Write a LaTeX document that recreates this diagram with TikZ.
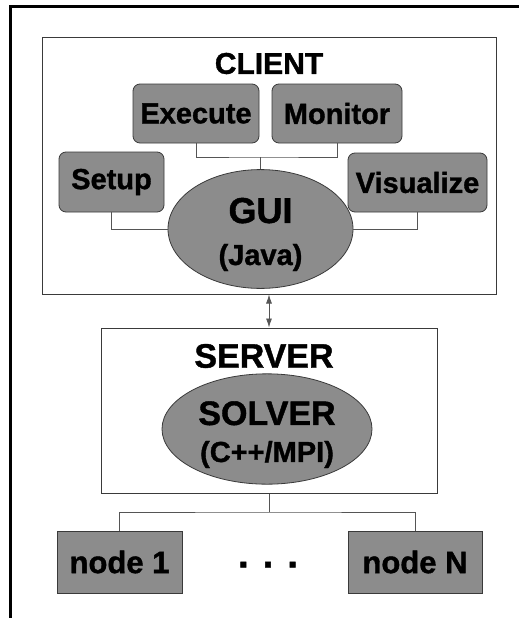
\documentclass[tikz,border=0pt]{standalone}
\usepackage{xcolor}
\usepackage{fontspec}
\setmainfont{Liberation Sans}[BoldFeatures={FakeBold=1.2}]
\usetikzlibrary{positioning, arrows.meta, shapes.geometric}
\definecolor{boxgray}{HTML}{8C8C8C}
\definecolor{edgegray}{HTML}{3A3A3A}
\definecolor{linkgray}{HTML}{555555}
\newcommand{\fsz}[1]{\fontsize{#1}{#1}\selectfont}

\tikzset{
  panel/.style={draw=edgegray, line width=1pt, fill=white},
  tool/.style={draw=edgegray, fill=boxgray, rounded corners=7pt, line width=0.8pt,
               font=\bfseries\fsz{29}, inner sep=0pt},
  core/.style={ellipse, draw=edgegray, fill=boxgray, line width=0.8pt, align=center, inner sep=0pt},
  worker/.style={draw=edgegray, fill=boxgray, line width=1pt, font=\bfseries\fsz{31}, inner sep=0pt},
  link/.style={draw=linkgray, line width=0.8pt},
}

\begin{document}
\begin{tikzpicture}[x=1pt, y=-1pt]
  \useasboundingbox (0,0) rectangle (519,618);
  % outer frame, cut off on the right and at the bottom
  \draw[line width=3pt] (10.5,618) -- (10.5,7) -- (519,7);

  % client side
  \node[panel, minimum width=454pt, minimum height=256pt] (client) at (269,166) {};
  \node[font=\bfseries\fsz{30}] (clientname) at (269,63.5) {CLIENT};
  \node[tool, minimum width=126pt, minimum height=59pt] (execute) at (196,113.5) {Execute};
  \node[tool, minimum width=130pt, minimum height=59pt] (monitor) at (337,113.5) {Monitor};
  \node[tool, minimum width=105pt, minimum height=60pt] (setup) at (111.5,182) {Setup};
  \node[tool, minimum width=139pt, minimum height=59pt] (visualize) at (417.5,182.5) {Visualize};
  \node[core, minimum width=185pt, minimum height=116pt, font=\bfseries\fontsize{36}{42}\selectfont]
    (gui) at (260.5,229) {\rule{0pt}{36pt}GUI\\\fontsize{29}{42}\selectfont(Java)};

  \coordinate (toolsjoin) at (gui.north |- 0,157);
  \draw[link] (execute.south) |- (toolsjoin) -| (monitor.south);
  \draw[link] (toolsjoin) -- (gui.north);
  \draw[link] (setup.south) |- (gui.west);
  \draw[link] (visualize.south) |- (gui.east);

  % server side
  \node[panel, minimum width=336pt, minimum height=165pt] (server) at (269,410.5) {};
  \node[font=\bfseries\fsz{34}] (servername) at (264,356) {SERVER};
  \node[core, minimum width=210pt, minimum height=110pt, font=\bfseries\fontsize{34}{37}\selectfont]
    (solver) at (267,429) {\rule{0pt}{35pt}SOLVER\\\fontsize{29}{37}\selectfont(C++/MPI)};

  \draw[link, {Latex[length=9pt,width=6pt]}-{Latex[length=9pt,width=6pt]}] (client.south) -- (server.north);

  % compute nodes
  \node[worker, minimum width=125pt, minimum height=62pt] (node1) at (119.5,562) {node 1};
  \node[worker, minimum width=134pt, minimum height=62pt] (nodeN) at (415,562) {node N};
  \node[font=\bfseries\fsz{38}, anchor=base] (dots) at (268,567.5) {. . .};

  \coordinate (split) at (server.south |- 0,512);
  \draw[link] (server.south) -- (split);
  \draw[link] (node1.north) |- (split) -| (nodeN.north);
\end{tikzpicture}
\end{document}
